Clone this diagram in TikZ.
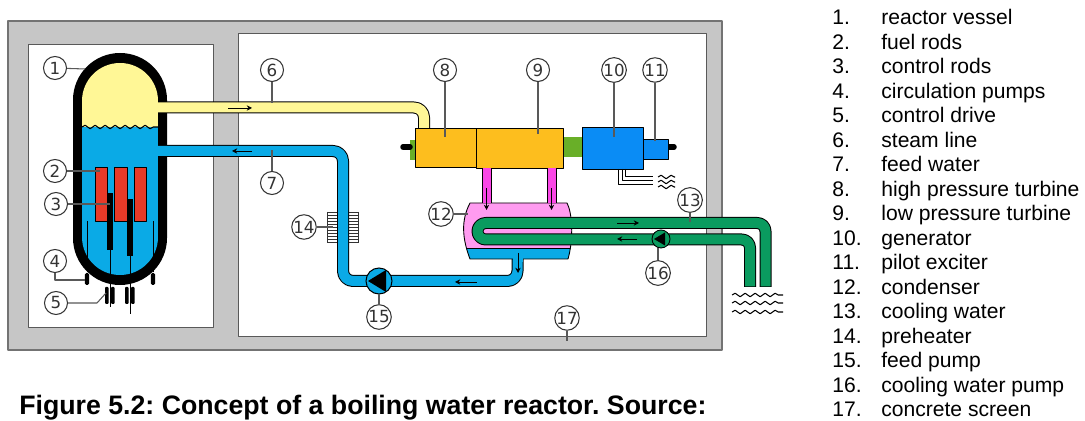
\documentclass[tikz,border=0pt]{standalone}
\usepackage{fontspec}
\setmainfont{Liberation Sans}
\newfontfamily\numfont{DejaVu Sans}
\usetikzlibrary{decorations.pathmorphing,arrows.meta}
\definecolor{wallgray}{RGB}{198,198,198}
\definecolor{steamyellow}{RGB}{255,247,150}
\definecolor{waterblue}{RGB}{10,170,230}
\definecolor{rodred}{RGB}{232,58,40}
\definecolor{turbineorange}{RGB}{253,190,30}
\definecolor{genblue}{RGB}{10,140,245}
\definecolor{shaftgreen}{RGB}{105,175,40}
\definecolor{steammagenta}{RGB}{250,70,230}
\definecolor{condpink}{RGB}{255,155,240}
\definecolor{coolgreen}{RGB}{10,155,95}
\tikzset{
  tag/.style={circle, draw=black!80, fill=white, line width=0.6pt, minimum size=0.46cm, inner sep=0pt, font=\numfont\fontsize{9.5}{10}\selectfont, text=black!80},
  leader/.style={draw=black!65, line width=0.6pt},
  wavy/.style={line width=0.6pt, decorate, decoration={snake, amplitude=0.035cm, segment length=0.2cm}},
  flow/.style={-{Stealth[length=3pt,width=3pt]}, line width=0.5pt},
  pipeline/.style={line width=0.24cm, rounded corners=#1},
  pipefill/.style={line width=0.2cm, rounded corners=#1},
  legendtext/.style={anchor=base west, font=\fontsize{12}{13}\selectfont, inner sep=0pt}
}
\begin{document}
\frenchspacing
\begin{tikzpicture}[x=0.02cm, y=-0.02cm, line join=round]
  \useasboundingbox (0,0) rectangle (1085,421);
  % --- concrete screen ---
  \draw[fill=wallgray, draw=black!55, line width=0.6pt] (8,21) rectangle (722,350);
  \draw[fill=white, draw=black!65, line width=0.5pt] (28,44) rectangle (213,327);
  \draw[fill=white, draw=black!65, line width=0.5pt] (238,33) rectangle (706,336);
  % --- reactor vessel ---
  \fill[black, rounded corners=0.94cm] (73,53) rectangle (167,285);
  \begin{scope}
    \clip[rounded corners=0.76cm] (82,63) rectangle (158,275);
    \fill[steamyellow] (82,63) rectangle (158,127);
    \fill[waterblue] (82,127) rectangle (158,275);
    \draw[wavy] (82,127) -- (158,127);
  \end{scope}
  % fuel rods
  \foreach \x in {95,114.5,134} \draw[fill=rodred, line width=0.4pt] (\x,167) rectangle (\x+12.5,221);
  % control rods
  \fill (107,193) rectangle (113,250);
  \fill (127,199) rectangle (133,256);
  \draw[line width=0.5pt] (110,250) -- (110,307);
  \draw[line width=0.5pt] (130,256) -- (130,314);
  % circulation pumps
  \foreach \x in {87,153} {
    \draw[line width=0.5pt] (\x,221) -- (\x,272);
    \fill[rounded corners=0.03cm] (\x-2.2,273) rectangle (\x+2.2,285);
  }
  % control drives
  \foreach \x in {105,111,125,131} \fill[rounded corners=0.02cm] (\x,287) rectangle (\x+3.6,304);
  % --- preheater ---
  \foreach \y in {212,215,...,243} \draw[line width=0.3pt, black!80] (327,\y) -- (358,\y);
  \draw[line width=0.3pt, black!80] (327,212) -- (327,243) (358,212) -- (358,243);
  % --- feed water ---
  \draw[pipeline=0.2cm] (517.5,250) -- (517.5,281) -- (343,281) -- (343,151) -- (160,151);
  \draw[pipefill=0.2cm, waterblue] (517.5,250) -- (517.5,281) -- (343,281) -- (343,151) -- (155,151);
  % --- steam line ---
  \draw[pipeline=0.2cm] (160,107.5) -- (424,107.5) -- (424,128);
  \draw[pipefill=0.2cm, steamyellow] (155,107.5) -- (424,107.5) -- (424,128);
  % --- turbine set ---
  \fill[shaftgreen] (410,140) rectangle (415,160);
  \fill[shaftgreen] (563,137) rectangle (582,157);
  \draw[line width=0.11cm, line cap=round] (403,147) -- (410,147);
  \draw[line width=0.11cm, line cap=round] (668,147) -- (674,147);
  \draw[fill=turbineorange, line width=0.5pt] (415,128) rectangle (476,167);
  \draw[fill=turbineorange, line width=0.5pt] (476,128) rectangle (563,168);
  \draw[fill=genblue, line width=0.5pt] (582,127) rectangle (643,169);
  \draw[fill=genblue, line width=0.5pt] (643,139) rectangle (668,159);
  % output lines
  \draw[line width=0.4pt] (618,169) -- (618,184) -- (653,184);
  \draw[line width=0.4pt] (622,169) -- (622,180) -- (653,180);
  \draw[line width=0.4pt] (625,169) -- (625,176) -- (653,176);
  \foreach \y in {177,182,187} \draw[wavy] (658,\y) -- (675,\y);
  % --- condenser ---
  \begin{scope}
    \clip (470,203) -- (567,203) .. controls (572,212) and (574,238) .. (568,259) -- (470,259) .. controls (462,238) and (461,220) .. (470,203) -- cycle;
    \fill[condpink] (455,200) rectangle (580,248);
    \fill[waterblue] (455,248) rectangle (580,262);
    \draw[line width=0.5pt] (455,248) -- (580,248);
  \end{scope}
  \draw[line width=0.5pt] (470,203) -- (567,203) .. controls (572,212) and (574,238) .. (568,259) -- (470,259) .. controls (462,238) and (461,220) .. (470,203) -- cycle;
  \fill[waterblue] (512.5,255) rectangle (522.5,262);
  % steam into condenser
  \foreach \x in {482,547} {
    \fill[steammagenta] (\x,168) rectangle (\x+9,203.5);
    \draw[line width=0.4pt] (\x,168) -- (\x,203) (\x+9,168) -- (\x+9,203);
    \draw[flow] (\x+4.5,188) -- (\x+4.5,210);
  }
  % --- cooling water ---
  \draw[pipeline=0.165cm] (765.5,287) -- (765.5,223) -- (477.5,223) -- (477.5,239.5) -- (750,239.5) -- (750,287);
  \draw[pipefill=0.165cm, coolgreen] (765.5,286.5) -- (765.5,223) -- (477.5,223) -- (477.5,239.5) -- (750,239.5) -- (750,286.5);
  \foreach \y in {295,303,312} \draw[wavy] (732,\y) -- (783,\y);
  % --- pumps ---
  \draw[fill=waterblue, line width=0.6pt] (379,281) circle (13);
  \fill (368,281) -- (386,270) -- (386,292) -- cycle;
  \draw[fill=coolgreen, line width=0.5pt] (661,239) circle (9);
  \fill (654,239) -- (665,232.5) -- (665,245.5) -- cycle;
  % --- flow arrows ---
  \draw[flow] (228,108) -- (252,108);
  \draw[flow] (252,151) -- (232,151);
  \draw[flow] (477,282) -- (455,282);
  \draw[flow] (518,253) -- (518,273);
  \draw[flow] (617,223) -- (639,223);
  \draw[flow] (637,239) -- (617,239);
  % --- numbered tags ---
  \node[tag] (n1) at (55,68) {1};
  \node[tag] (n2) at (55,171) {2};
  \node[tag] (n3) at (56,204) {3};
  \node[tag] (n4) at (55,261) {4};
  \node[tag] (n5) at (56,303) {5};
  \node[tag] (n6) at (272,70) {6};
  \node[tag] (n7) at (272,183) {7};
  \node[tag] (n8) at (445,70) {8};
  \node[tag] (n9) at (538,70) {9};
  \node[tag] (n10) at (614,70) {10};
  \node[tag] (n11) at (655,70) {11};
  \node[tag] (n12) at (441,214) {12};
  \node[tag] (n13) at (690,200) {13};
  \node[tag] (n14) at (304,227) {14};
  \node[tag] (n15) at (379,317) {15};
  \node[tag] (n16) at (658,273) {16};
  \node[tag] (n17) at (567,318) {17};
  % leader ends
  \coordinate (e1) at (85,69);
  \coordinate (e2) at (100,171);
  \coordinate (e3) at (110,204);
  \coordinate (e4) at (85,280);
  \coordinate (e5) at (106,293);
  \coordinate (e6) at (272,103);
  \coordinate (e7) at (272,150);
  \coordinate (e8) at (445,137);
  \coordinate (e9) at (538,134);
  \coordinate (e10) at (614,137);
  \coordinate (e11) at (655,141);
  \coordinate (e12) at (468,214);
  \coordinate (e13) at (690,222);
  \coordinate (e14) at (333,227);
  \coordinate (e15) at (379,294);
  \coordinate (e16) at (658,248);
  \coordinate (e17) at (567,341);
  \foreach \i in {1,2,3,6,7,8,9,10,11,12,13,14,15,16,17} \draw[leader] (n\i) -- (e\i);
  \draw[leader] (n4) |- (e4);
  \draw[leader] (n5.east) -- (97,303) -- (e5);
  % --- legend ---
  \foreach \i/\txt [evaluate=\i as \ypos using 25+24.5*(\i-1)] in {1/reactor vessel, 2/fuel rods, 3/control rods, 4/circulation pumps, 5/control drive, 6/steam line, 7/feed water, 8/high pressure turbine, 9/low pressure turbine, 10/generator, 11/pilot exciter, 12/condenser, 13/cooling water, 14/preheater, 15/feed pump, 16/cooling water pump, 17/concrete screen} {
    \node[legendtext] (num\i) at (832,\ypos) {\i.};
    \node[legendtext] (item\i) at (881,\ypos) {\txt};
  }
  % --- caption ---
  \node[anchor=base west, inner sep=0pt, font=\bfseries\fontsize{15.2}{17}\selectfont] (caption) at (19,415) {Figure 5.2: Concept of a boiling water reactor. Source:};
\end{tikzpicture}
\end{document}
